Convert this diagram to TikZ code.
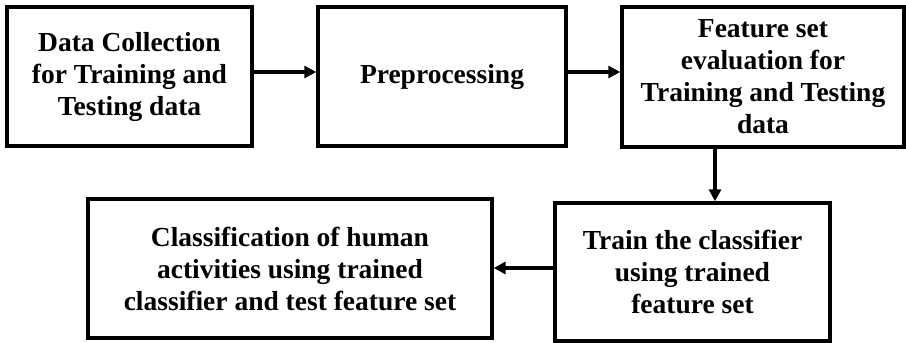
\documentclass[tikz,border=0pt]{standalone}
\usepackage{fontspec}
\setmainfont{Liberation Serif}
\usetikzlibrary{arrows.meta}
\begin{document}
\begin{tikzpicture}[
        x=1pt, y=1pt,
        stage/.style={draw, line width=3.4pt, rectangle, align=center,
            inner sep=0pt, font=\fontsize{27.5}{32}\selectfont\bfseries},
        flow/.style={line width=3.4pt, -{Triangle[length=12pt,width=12pt]}},
        ]
    \useasboundingbox (0,0) rectangle (906,343);
    % top row
    \node (collect) [stage, minimum width=245pt, minimum height=139pt] at (129.5,266.5)
        {Data Collection\\for Training and\\Testing data};
    \node (prep) [stage, minimum width=248pt, minimum height=139pt] at (442,266.5)
        {Preprocessing};
    \node (feat) [stage, minimum width=282pt, minimum height=140pt] at (763,266)
        {Feature set\\evaluation for\\Training and Testing\\data};
    % bottom row
    \node (train) [stage, minimum width=275pt, minimum height=138pt] at (692.5,71)
        {Train the classifier\\using trained\\feature set};
    \node (classify) [stage, minimum width=404pt, minimum height=139pt] at (290,74.5)
        {Classification of human\\activities using trained\\classifier and test feature set};
    % connectors
    \draw[flow] ([yshift=4.5pt]collect.east) -- ([yshift=4.5pt]collect.east -| prep.west);
    \draw[flow] ([yshift=4.5pt]prep.east) -- ([yshift=4.5pt]prep.east -| feat.west);
    \draw[flow] ([xshift=-48pt]feat.south) -- ([xshift=-48pt]feat.south |- train.north);
    \draw[flow] ([yshift=4pt]train.west) -- ([yshift=4pt]train.west -| classify.east);
\end{tikzpicture}
\end{document}
